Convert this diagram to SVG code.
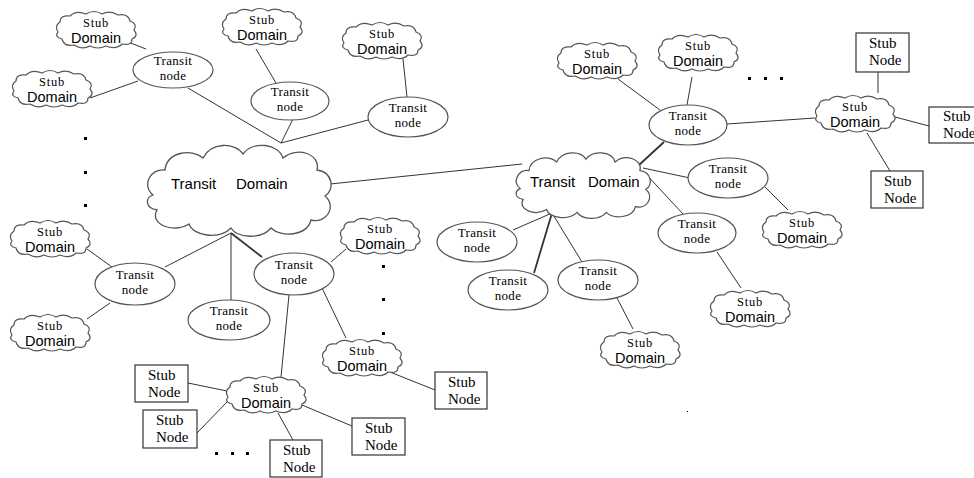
<svg xmlns="http://www.w3.org/2000/svg" xmlns:xlink="http://www.w3.org/1999/xlink" width="974" height="478" viewBox="0 0 974 478">
<style>
.bg{fill:#fff}
.cl{fill:#fff;stroke:#555;stroke-width:1.2}
.big{fill:#fff;stroke:#555;stroke-width:1.3}
.el{fill:#fff;stroke:#555;stroke-width:1.2}
.bx{fill:#fff;stroke:#333;stroke-width:1.2}
.ln{stroke:#333;stroke-width:1;fill:none}
.tk{stroke-width:1.8}
.sf{font-family:"Liberation Serif","Times New Roman",serif;font-size:13px;letter-spacing:0.3px;fill:#000}
.sb{font-family:"Liberation Serif","Times New Roman",serif;font-size:15px;fill:#000}
.ss{font-family:"Liberation Sans",Arial,sans-serif;font-size:15px;fill:#000}
.st{font-family:"Liberation Serif","Times New Roman",serif;font-size:12.5px;letter-spacing:0.8px}
.dm{font-family:"Liberation Sans",Arial,sans-serif;font-size:14.5px}
.dot{fill:#000}
</style>
<defs>
<path id="sc" d="M-38,2 Q-42,-4 -36,-8 Q-36,-15 -26,-14 Q-20,-20 -10,-16 Q-2,-21 6,-16 Q14,-20 22,-15 Q32,-17 34,-9 Q42,-6 38,0 Q43,6 36,9 Q36,16 26,14 Q20,20 10,16 Q2,20 -6,16 Q-14,20 -22,15 Q-32,17 -34,9 Q-42,7 -38,2 Z"/>
<path id="lc" d="M-86,5 C-98,-5 -88,-22 -74,-20 C-72,-38 -48,-42 -36,-32 C-28,-48 -4,-48 4,-36 C14,-50 40,-46 44,-32 C58,-44 82,-36 78,-20 C94,-18 96,0 86,6 C98,16 88,34 72,30 C68,46 42,48 32,38 C22,50 -2,48 -8,38 C-20,50 -46,46 -50,34 C-66,44 -90,34 -82,20 C-94,18 -94,8 -86,5 Z"/>
</defs>
<rect class="bg" x="0" y="0" width="974" height="478"/>
<g id="connectors" class="ln">
<line x1="128" y1="42" x2="146" y2="49"/>
<line x1="90" y1="98" x2="138" y2="81"/>
<line x1="188" y1="88" x2="281" y2="143"/>
<line x1="256" y1="49" x2="276" y2="83"/>
<line x1="293" y1="119" x2="281" y2="143"/>
<line x1="281" y1="143" x2="368" y2="120"/>
<line x1="403" y1="59" x2="407" y2="97"/>
<line x1="330" y1="184" x2="522" y2="164"/>
<line x1="618" y1="79" x2="660" y2="110"/>
<line x1="692" y1="77" x2="687" y2="105"/>
<line x1="727" y1="124" x2="815" y2="118"/>
<line class="tk" x1="639" y1="165" x2="664" y2="142"/>
<line x1="643" y1="168" x2="690" y2="178"/>
<line x1="644" y1="172" x2="683" y2="214"/>
<line x1="765" y1="187" x2="788" y2="210"/>
<line x1="717" y1="252" x2="741" y2="288"/>
<line x1="878" y1="93" x2="878" y2="72"/>
<line x1="895" y1="117" x2="929" y2="126"/>
<line x1="867" y1="133" x2="890" y2="171"/>
<line x1="552" y1="213" x2="513" y2="230"/>
<line class="tk" x1="552" y1="213" x2="534" y2="273"/>
<line x1="552" y1="213" x2="582" y2="262"/>
<line x1="617" y1="298" x2="633" y2="329"/>
<line x1="231" y1="233" x2="165" y2="267"/>
<line x1="231" y1="233" x2="231" y2="300"/>
<line class="tk" x1="231" y1="233" x2="262" y2="257"/>
<line x1="87" y1="249" x2="112" y2="267"/>
<line x1="87" y1="319" x2="110" y2="303"/>
<line x1="331" y1="262" x2="346" y2="249"/>
<line x1="322" y1="288" x2="346" y2="338"/>
<line x1="289" y1="295" x2="281" y2="377"/>
<line x1="188" y1="383" x2="227" y2="391"/>
<line x1="197" y1="433" x2="227" y2="402"/>
<line x1="278" y1="413" x2="293" y2="440"/>
<line x1="302" y1="405" x2="352" y2="426"/>
<line x1="390" y1="372" x2="435" y2="390"/>
</g>
<g id="transitDomainA"><use href="#lc" class="big" transform="translate(239,190)"/><text class="ss" x="171" y="189">Transit<tspan x="236">Domain</tspan></text></g>
<g id="transitDomainB"><use href="#lc" class="big" transform="translate(583,185) scale(0.73,0.72)" style="stroke-width:1.7"/><text class="ss" x="530" y="187">Transit<tspan x="588">Domain</tspan></text></g>
<g id="stub1"><use href="#sc" class="cl" x="96" y="30"/><text text-anchor="middle" x="96" y="27"><tspan class="st">Stub</tspan><tspan class="dm" x="96" dy="16">Domain</tspan></text></g>
<g id="stub2"><use href="#sc" class="cl" x="52" y="89"/><text text-anchor="middle" x="52" y="86"><tspan class="st">Stub</tspan><tspan class="dm" x="52" dy="16">Domain</tspan></text></g>
<g id="stub3"><use href="#sc" class="cl" x="262" y="27"/><text text-anchor="middle" x="262" y="24"><tspan class="st">Stub</tspan><tspan class="dm" x="262" dy="16">Domain</tspan></text></g>
<g id="stub4"><use href="#sc" class="cl" x="382" y="41"/><text text-anchor="middle" x="382" y="38"><tspan class="st">Stub</tspan><tspan class="dm" x="382" dy="16">Domain</tspan></text></g>
<g id="stub5"><use href="#sc" class="cl" x="597" y="61"/><text text-anchor="middle" x="597" y="58"><tspan class="st">Stub</tspan><tspan class="dm" x="597" dy="16">Domain</tspan></text></g>
<g id="stub6"><use href="#sc" class="cl" x="698" y="53"/><text text-anchor="middle" x="698" y="50"><tspan class="st">Stub</tspan><tspan class="dm" x="698" dy="16">Domain</tspan></text></g>
<g id="stub7"><use href="#sc" class="cl" x="855" y="114"/><text text-anchor="middle" x="855" y="111"><tspan class="st">Stub</tspan><tspan class="dm" x="855" dy="16">Domain</tspan></text></g>
<g id="stub8"><use href="#sc" class="cl" x="802" y="230"/><text text-anchor="middle" x="802" y="227"><tspan class="st">Stub</tspan><tspan class="dm" x="802" dy="16">Domain</tspan></text></g>
<g id="stub9"><use href="#sc" class="cl" x="750" y="309"/><text text-anchor="middle" x="750" y="306"><tspan class="st">Stub</tspan><tspan class="dm" x="750" dy="16">Domain</tspan></text></g>
<g id="stub10"><use href="#sc" class="cl" x="640" y="350"/><text text-anchor="middle" x="640" y="347"><tspan class="st">Stub</tspan><tspan class="dm" x="640" dy="16">Domain</tspan></text></g>
<g id="stub11"><use href="#sc" class="cl" x="50" y="239"/><text text-anchor="middle" x="50" y="236"><tspan class="st">Stub</tspan><tspan class="dm" x="50" dy="16">Domain</tspan></text></g>
<g id="stub12"><use href="#sc" class="cl" x="50" y="333"/><text text-anchor="middle" x="50" y="330"><tspan class="st">Stub</tspan><tspan class="dm" x="50" dy="16">Domain</tspan></text></g>
<g id="stub13"><use href="#sc" class="cl" x="380" y="236"/><text text-anchor="middle" x="380" y="233"><tspan class="st">Stub</tspan><tspan class="dm" x="380" dy="16">Domain</tspan></text></g>
<g id="stub14"><use href="#sc" class="cl" x="362" y="358"/><text text-anchor="middle" x="362" y="355"><tspan class="st">Stub</tspan><tspan class="dm" x="362" dy="16">Domain</tspan></text></g>
<g id="stub15"><use href="#sc" class="cl" x="266" y="395"/><text text-anchor="middle" x="266" y="392"><tspan class="st">Stub</tspan><tspan class="dm" x="266" dy="16">Domain</tspan></text></g>
<g id="transit1"><ellipse class="el" cx="173" cy="70" rx="40" ry="18"/><text class="sf" text-anchor="middle" x="173" y="65">Transit<tspan x="173" dy="14.5">node</tspan></text></g>
<g id="transit2"><ellipse class="el" cx="290" cy="101" rx="39" ry="19"/><text class="sf" text-anchor="middle" x="290" y="96">Transit<tspan x="290" dy="14.5">node</tspan></text></g>
<g id="transit3"><ellipse class="el" cx="408" cy="117" rx="40" ry="20"/><text class="sf" text-anchor="middle" x="408" y="112">Transit<tspan x="408" dy="14.5">node</tspan></text></g>
<g id="transit4"><ellipse class="el" cx="688" cy="125" rx="39" ry="20"/><text class="sf" text-anchor="middle" x="688" y="120">Transit<tspan x="688" dy="14.5">node</tspan></text></g>
<g id="transit5"><ellipse class="el" cx="728" cy="178" rx="40" ry="20"/><text class="sf" text-anchor="middle" x="728" y="173">Transit<tspan x="728" dy="14.5">node</tspan></text></g>
<g id="transit6"><ellipse class="el" cx="697" cy="233" rx="39" ry="20"/><text class="sf" text-anchor="middle" x="697" y="228">Transit<tspan x="697" dy="14.5">node</tspan></text></g>
<g id="transit7"><ellipse class="el" cx="477" cy="242" rx="40" ry="20"/><text class="sf" text-anchor="middle" x="477" y="237">Transit<tspan x="477" dy="14.5">node</tspan></text></g>
<g id="transit8"><ellipse class="el" cx="508" cy="290" rx="40" ry="20"/><text class="sf" text-anchor="middle" x="508" y="285">Transit<tspan x="508" dy="14.5">node</tspan></text></g>
<g id="transit9"><ellipse class="el" cx="598" cy="280" rx="40" ry="20"/><text class="sf" text-anchor="middle" x="598" y="275">Transit<tspan x="598" dy="14.5">node</tspan></text></g>
<g id="transit10"><ellipse class="el" cx="135" cy="284" rx="40" ry="21"/><text class="sf" text-anchor="middle" x="135" y="279">Transit<tspan x="135" dy="14.5">node</tspan></text></g>
<g id="transit11"><ellipse class="el" cx="229" cy="320" rx="41" ry="20"/><text class="sf" text-anchor="middle" x="229" y="315">Transit<tspan x="229" dy="14.5">node</tspan></text></g>
<g id="transit12"><ellipse class="el" cx="294" cy="274" rx="40" ry="21"/><text class="sf" text-anchor="middle" x="294" y="269">Transit<tspan x="294" dy="14.5">node</tspan></text></g>
<g id="node1"><rect class="bx" x="856" y="33" width="53" height="39"/><text class="sb" x="869" y="48">Stub<tspan x="869" dy="17">Node</tspan></text></g>
<g id="node2"><rect class="bx" x="929" y="107" width="50" height="36"/><text class="sb" x="943" y="121">Stub<tspan x="943" dy="17">Node</tspan></text></g>
<g id="node3"><rect class="bx" x="871" y="171" width="52" height="37"/><text class="sb" x="884" y="186">Stub<tspan x="884" dy="17">Node</tspan></text></g>
<g id="node4"><rect class="bx" x="135" y="365" width="53" height="37"/><text class="sb" x="148" y="380">Stub<tspan x="148" dy="17">Node</tspan></text></g>
<g id="node5"><rect class="bx" x="143" y="410" width="54" height="38"/><text class="sb" x="156" y="425">Stub<tspan x="156" dy="17">Node</tspan></text></g>
<g id="node6"><rect class="bx" x="270" y="440" width="52" height="37"/><text class="sb" x="283" y="455">Stub<tspan x="283" dy="17">Node</tspan></text></g>
<g id="node7"><rect class="bx" x="435" y="372" width="52" height="37"/><text class="sb" x="448" y="387">Stub<tspan x="448" dy="17">Node</tspan></text></g>
<g id="node8"><rect class="bx" x="352" y="418" width="53" height="37"/><text class="sb" x="365" y="433">Stub<tspan x="365" dy="17">Node</tspan></text></g>
<g id="dots">
<rect class="dot" x="84" y="137" width="3" height="3"/>
<rect class="dot" x="84" y="171" width="3" height="3"/>
<rect class="dot" x="84" y="204" width="3" height="3"/>
<rect class="dot" x="382" y="265" width="3" height="3"/>
<rect class="dot" x="382" y="298" width="3" height="3"/>
<rect class="dot" x="382" y="332" width="3" height="3"/>
<rect class="dot" x="215" y="452" width="3" height="3"/>
<rect class="dot" x="231" y="452" width="3" height="3"/>
<rect class="dot" x="246" y="452" width="3" height="3"/>
<rect class="dot" x="748" y="77" width="3" height="3"/>
<rect class="dot" x="764" y="77" width="3" height="3"/>
<rect class="dot" x="780" y="77" width="3" height="3"/>
<rect class="dot" x="687" y="411" width="1" height="1"/>
</g>
</svg>
